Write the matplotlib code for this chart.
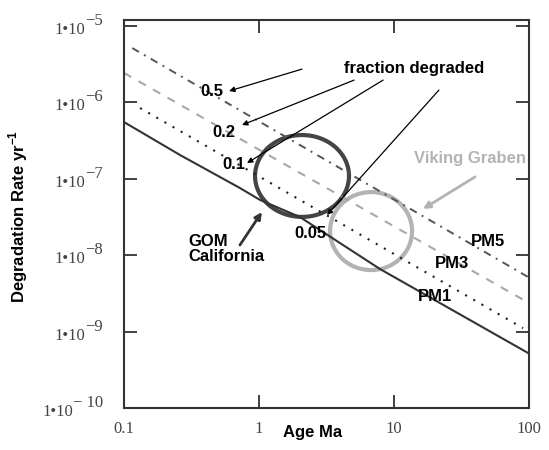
import matplotlib
matplotlib.use("Agg")
import matplotlib.pyplot as plt
from matplotlib.patches import Ellipse
from matplotlib.transforms import blended_transform_factory, offset_copy

# degradation rate curves (age in Ma, rate in 1/yr)
pm5_age = [0.115, 98.4]
pm5_rate = [5.15e-6, 5.19e-9]
pm3_age = [0.1, 97.0]
pm3_rate = [2.43e-6, 2.44e-9]
dot_age = [0.1315, 90.3]
dot_rate = [8.45e-7, 1.11e-9]
pm1_age = [0.1, 0.26, 0.72, 1.02, 2.01, 7.87, 98.4]
pm1_rate = [5.53e-7, 2.05e-7, 7.6e-8, 5.28e-8, 3.16e-8, 6.6e-9, 5.25e-10]

x_ticks = [0.1, 1, 10, 100]
x_labels = ["0.1", "1", "10", "100"]
y_exps = [-5, -6, -7, -8, -9, -10]

fig = plt.figure(figsize=(5.49, 4.5), dpi=100)
ax = fig.add_axes([0.2259, 0.0933, 0.7377, 0.8623])
ax.set_xscale("log")
ax.set_yscale("log")
ax.set_xlim(0.1, 100)
ax.set_ylim(1e-10, 1.2e-5)

ax.plot(pm5_age, pm5_rate, color="#555555", lw=1.4, linestyle=(0, (4, 3, 1, 3)))
ax.plot(pm3_age, pm3_rate, color="#a8a8a8", lw=1.5, linestyle=(0, (4, 4)))
ax.plot(dot_age, dot_rate, color="#222222", lw=1.5, linestyle=(0, (1, 3.5)))
ax.plot(pm1_age, pm1_rate, color="#333333", lw=1.5)

# circles (axes coords)
ax.add_patch(Ellipse((0.4395, 0.598), 0.232, 0.211, transform=ax.transAxes,
                     fill=False, ec="#444444", lw=3))
ax.add_patch(Ellipse((0.610, 0.456), 0.2025, 0.201, transform=ax.transAxes,
                     fill=False, ec="#b3b3b3", lw=3))

bold = dict(family="Liberation Sans", fontweight="bold", fontsize=12)
ax.text(14.1, 2.82e-6, "fraction degraded", ha="center", va="center", **bold)
for lbl, x, y in [("0.5", 0.449, 1.37e-6), ("0.2", 0.551, 4.1e-7),
                  ("0.1", 0.653, 1.52e-7), ("0.05", 2.39, 1.95e-8),
                  ("PM5", 49.7, 1.49e-8), ("PM3", 26.9, 7.9e-9),
                  ("PM1", 20.1, 2.84e-9)]:
    ax.text(x, y, lbl, ha="center", va="center", **bold)
ax.text(0.298, 1.2e-8, "GOM\nCalifornia", ha="left", va="center",
        linespacing=1.0, **bold)
ax.text(36.6, 1.82e-7, "Viking Graben", ha="center", va="center",
        color="#b3b3b3", **bold)

thin = dict(arrowstyle="-|>", lw=0.9, color="black", mutation_scale=8,
            shrinkA=0, shrinkB=0)
for tail, tip in [((2.08, 2.73e-6), (0.6, 1.41e-6)),
                  ((5.06, 1.96e-6), (0.748, 5.06e-7)),
                  ((8.3, 1.96e-6), (0.815, 1.61e-7)),
                  ((21.5, 1.45e-6), (3.19, 3.36e-8))]:
    ax.annotate("", xy=tip, xytext=tail, arrowprops=thin)
ax.annotate("", xy=(1.05, 3.67e-8), xytext=(0.722, 1.36e-8),
            arrowprops=dict(arrowstyle="-|>", lw=2, color="#333333",
                            mutation_scale=10, shrinkA=0, shrinkB=0))
ax.annotate("", xy=(16.4, 4.03e-8), xytext=(39.8, 1.06e-7),
            arrowprops=dict(arrowstyle="-|>", lw=2, color="#b3b3b3",
                            mutation_scale=10, shrinkA=0, shrinkB=0))

# axes styling
for s in ax.spines.values():
    s.set_linewidth(1.5)
    s.set_color("#333333")
ax.minorticks_off()
ax.set_xticks(x_ticks)
ax.set_xticklabels(x_labels)
ax.set_yticks([10.0 ** e for e in y_exps])
ax.set_yticklabels([])
ax.tick_params(which="major", direction="in", length=9.5, width=1.3,
               color="#333333", top=True, right=True, pad=9)
for t in ax.get_xticklabels():
    t.set_fontfamily("Liberation Serif")
    t.set_fontsize(12)
    t.set_color("#444444")

# y tick labels in the "1•10^-n" style
tr = blended_transform_factory(ax.transAxes, ax.transData)
for e in y_exps:
    exp_txt = "\u2212" + str(-e) if e > -10 else "\u2212 10"
    et = ax.text(0, 10.0 ** e, exp_txt, ha="right", va="center",
                 transform=offset_copy(tr, fig=fig, x=-21, y=5, units="dots"),
                 family="Liberation Serif", fontsize=12, color="#444444")
    ax.annotate("1\u202210", xy=(0, 0.5), xycoords=et, xytext=(0, -9),
                textcoords="offset pixels", ha="right", va="center",
                family="Liberation Serif", fontsize=12, color="#444444")

fig.text(0.033, 0.52, "Degradation Rate yr$^{\\mathregular{-1}}$", rotation=90,
         ha="center", va="center", **bold)
fig.text(0.57, 0.038, "Age Ma", ha="center", va="center", **bold)

fig.savefig("out.png", dpi=100)
